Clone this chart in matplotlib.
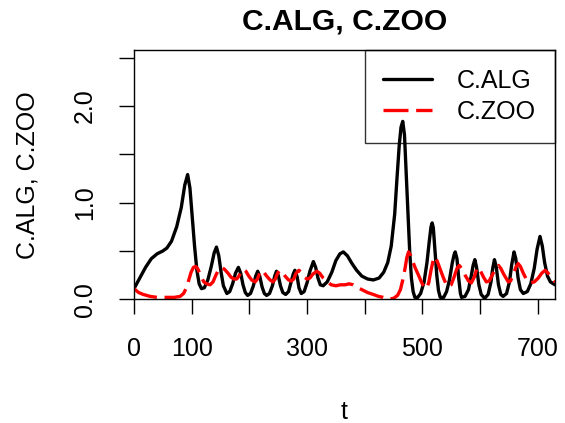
import matplotlib
matplotlib.use("Agg")
import matplotlib.pyplot as plt
import numpy as np

plt.rcParams['font.family'] = ['Liberation Sans', 'DejaVu Sans']

# C.ALG series (time, value)
alg_t = [0, 10, 20, 30, 40, 50, 57, 65, 74, 82, 88, 93, 97, 101, 105, 109, 113, 117,
         122, 128, 134, 139, 143, 147, 151, 155, 161, 166, 171, 176, 181, 185, 189, 193,
         197, 202, 207, 211, 214.5, 218, 222, 226, 230, 235, 240, 244, 247, 250, 254,
         258, 263, 268, 272, 276, 279, 283, 286, 290, 295, 300, 305, 311, 315, 319, 323,
         328, 335, 343, 350, 357, 363, 370, 378, 386, 395, 405, 415, 425, 433, 440, 446,
         452, 456, 460, 463, 466, 469, 472, 475, 478, 481, 484, 487, 492, 497, 503, 508,
         512, 515, 517, 519, 522, 525, 528, 531, 537, 542, 547, 552, 555, 557, 560, 563,
         566, 568, 574, 580, 585, 588, 591, 594, 598, 602, 608, 614, 619, 622, 625, 628,
         632, 636, 640, 646, 651, 655, 659, 662, 666, 670, 675, 682, 688, 694, 699, 704,
         708, 712, 717, 722, 730]
alg_v = [0.11, 0.22, 0.33, 0.42, 0.47, 0.50, 0.53, 0.60, 0.75, 0.95, 1.18, 1.29, 1.15,
         0.85, 0.55, 0.30, 0.16, 0.11, 0.12, 0.20, 0.34, 0.48, 0.54, 0.45, 0.28, 0.14,
         0.06, 0.08, 0.16, 0.27, 0.33, 0.27, 0.15, 0.07, 0.04, 0.06, 0.14, 0.24, 0.29,
         0.24, 0.13, 0.06, 0.04, 0.06, 0.14, 0.24, 0.29, 0.25, 0.14, 0.07, 0.05, 0.08,
         0.17, 0.26, 0.30, 0.23, 0.12, 0.06, 0.08, 0.17, 0.29, 0.39, 0.33, 0.22, 0.15,
         0.14, 0.18, 0.28, 0.40, 0.47, 0.49, 0.45, 0.37, 0.30, 0.24, 0.21, 0.20, 0.22,
         0.28, 0.38, 0.55, 0.88, 1.25, 1.60, 1.78, 1.84, 1.70, 1.30, 0.90, 0.50, 0.22,
         0.08, 0.02, 0.02, 0.06, 0.18, 0.38, 0.60, 0.75, 0.79, 0.74, 0.50, 0.25, 0.09,
         0.02, 0.02, 0.08, 0.20, 0.38, 0.46, 0.49, 0.42, 0.22, 0.06, 0.02, 0.03, 0.10,
         0.25, 0.35, 0.41, 0.33, 0.15, 0.05, 0.01, 0.05, 0.18, 0.32, 0.41, 0.34, 0.15,
         0.05, 0.03, 0.06, 0.18, 0.36, 0.49, 0.42, 0.22, 0.10, 0.06, 0.08, 0.16, 0.32,
         0.52, 0.65, 0.55, 0.38, 0.24, 0.18, 0.15]

# C.ZOO series
zoo_t = [0, 8, 16, 28, 40, 55, 70, 80, 86, 91, 95, 99, 103, 107, 111, 116, 121, 126,
         132, 137, 142, 147, 152, 157, 163, 168, 173, 178, 182, 186, 190, 194, 199, 204,
         210, 214, 218, 221, 225, 230, 236, 241, 245, 249, 253, 257, 262, 268, 273, 277,
         281, 286, 290, 295, 300, 305, 310, 317, 322, 328, 335, 342, 350, 358, 366, 373,
         380, 388, 395, 405, 415, 424, 432, 441, 450, 457, 462, 466, 470, 473, 476, 480,
         484, 488, 494, 499, 503, 507, 511, 515, 519, 522, 526, 531, 536, 541, 545, 550,
         555, 560, 564, 568, 574, 580, 585, 590, 594, 597, 601, 606, 611, 616, 621, 627,
         632, 636, 641, 649, 653, 658, 662, 666, 670, 675, 681, 687, 694, 701, 707, 713,
         718, 724, 730]
zoo_v = [0.11, 0.07, 0.05, 0.03, 0.02, 0.02, 0.02, 0.03, 0.06, 0.12, 0.20, 0.28, 0.33,
         0.34, 0.31, 0.24, 0.18, 0.16, 0.15, 0.18, 0.25, 0.31, 0.33, 0.31, 0.27, 0.23,
         0.21, 0.21, 0.24, 0.29, 0.31, 0.29, 0.24, 0.20, 0.18, 0.21, 0.27, 0.30, 0.28,
         0.24, 0.20, 0.18, 0.21, 0.27, 0.30, 0.28, 0.24, 0.20, 0.19, 0.21, 0.27, 0.30,
         0.28, 0.23, 0.21, 0.22, 0.26, 0.29, 0.27, 0.22, 0.18, 0.15, 0.14, 0.15, 0.15,
         0.16, 0.15, 0.12, 0.10, 0.07, 0.05, 0.03, 0.02, 0.00, 0.01, 0.04, 0.10, 0.20,
         0.32, 0.43, 0.49, 0.45, 0.38, 0.32, 0.24, 0.17, 0.13, 0.11, 0.17, 0.30, 0.41,
         0.44, 0.39, 0.31, 0.23, 0.16, 0.13, 0.15, 0.23, 0.32, 0.35, 0.32, 0.25, 0.19,
         0.17, 0.23, 0.31, 0.33, 0.29, 0.23, 0.18, 0.19, 0.25, 0.32, 0.35, 0.32, 0.26,
         0.18, 0.19, 0.26, 0.33, 0.37, 0.34, 0.27, 0.20, 0.17, 0.18, 0.22, 0.27, 0.30,
         0.27, 0.22, 0.18]

x_ticks = [0, 100, 200, 300, 400, 500, 600, 700]
x_labels = ['0', '100', '', '300', '', '500', '', '700']
y_ticks = [0.0, 0.5, 1.0, 1.5, 2.0, 2.5]
y_labels = ['0.0', '', '1.0', '', '2.0', '']

W, H = 565, 423
fig = plt.figure(figsize=(W / 100, H / 100), dpi=100)
ax = fig.add_axes([134 / W, 1 - 299.3 / H, 421 / W, 249.3 / H])

ax.plot(alg_t, alg_v, color='black', lw=2.4, solid_capstyle='round', label='C.ALG')
ax.plot(zoo_t, zoo_v, color='red', lw=2.4, linestyle=(0, (7.5, 2.3)),
        dash_capstyle='butt', label='C.ZOO')

ax.set_xlim(0, 730)
ax.set_ylim(0, 2.578)
ax.set_xticks(x_ticks)
ax.set_xticklabels(x_labels)
ax.set_yticks(y_ticks)
ax.set_yticklabels(y_labels, rotation=90, va='center')
ax.tick_params(length=10.8, width=1.0, labelsize=18, pad=16)
for s in ax.spines.values():
    s.set_linewidth(1.0)

leg = ax.legend(loc='upper right', fontsize=18, frameon=True, fancybox=False,
                borderaxespad=0, borderpad=0.75, handlelength=1.95,
                handletextpad=1.0, labelspacing=0.28)
leg.get_frame().set_edgecolor('black')
leg.get_frame().set_facecolor('none')
leg.get_frame().set_linewidth(1.0)

fig.text(344.5 / W, 1 - 30 / H, 'C.ALG, C.ZOO', ha='center', va='baseline',
         fontsize=21.6, fontweight='bold')
fig.text(35 / W, 1 - 174.7 / H, 'C.ALG, C.ZOO', rotation=90, rotation_mode='anchor',
         ha='center', va='baseline', fontsize=18)
fig.text(344.5 / W, 1 - 419 / H, 't', ha='center', va='baseline', fontsize=18)

fig.savefig('out.png', dpi=100)
